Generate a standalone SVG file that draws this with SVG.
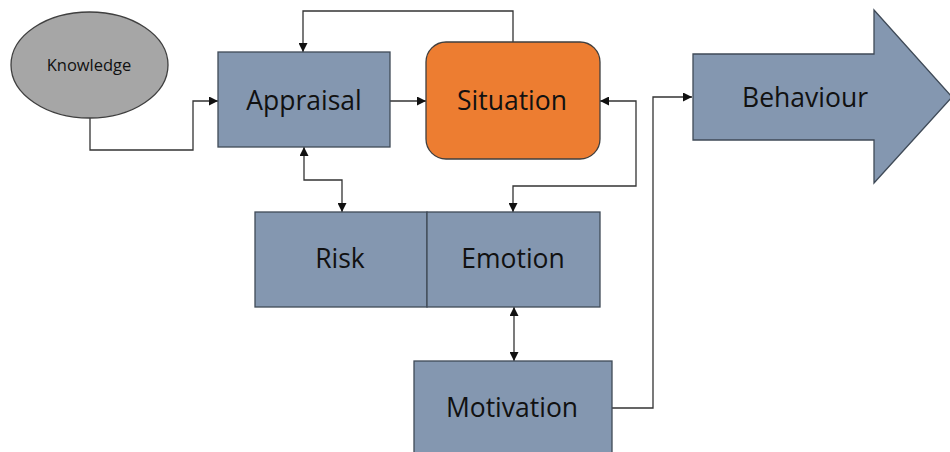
<svg xmlns="http://www.w3.org/2000/svg" width="950" height="452" viewBox="0 0 950 452">
  <style>
    .box { fill: #8497B0; stroke: #3F4A57; stroke-width: 1.3; }
    .lbl { font-family: "Open Sans", "Liberation Sans", sans-serif; font-size: 26.5px; fill: #111; text-anchor: middle; }
    .wire { fill: none; stroke: #333; stroke-width: 1.3; }
  </style>
  <defs>
    <marker id="ah" viewBox="0 0 10 10" refX="10" refY="5" markerWidth="9" markerHeight="9" markerUnits="userSpaceOnUse" orient="auto-start-reverse">
      <path d="M0,0 L10,5 L0,10 Z" fill="#111"/>
    </marker>
  </defs>
  <rect width="950" height="452" fill="#fff"/>

  <g id="connectors">
    <!-- Knowledge to Appraisal -->
    <path class="wire" d="M90,118 V150 H193 V101 H218" marker-end="url(#ah)"/>
    <!-- Situation loop back to Appraisal top -->
    <path class="wire" d="M513,42 V11 H303 V52" marker-end="url(#ah)"/>
    <!-- Appraisal to Situation -->
    <path class="wire" d="M390,101 H426" marker-end="url(#ah)"/>
    <!-- Emotion and Situation -->
    <path class="wire" d="M513,212 V186 H636 V101 H600" marker-start="url(#ah)" marker-end="url(#ah)"/>
    <!-- Appraisal and Risk -->
    <path class="wire" d="M304,147 V180 H342 V212" marker-start="url(#ah)" marker-end="url(#ah)"/>
    <!-- Emotion and Motivation -->
    <path class="wire" d="M514,307 V361" marker-start="url(#ah)" marker-end="url(#ah)"/>
    <!-- Motivation to Behaviour -->
    <path class="wire" d="M612,408 H653 V97 H692" marker-end="url(#ah)"/>
  </g>

  <g id="knowledge">
    <ellipse cx="89.5" cy="65" rx="78.5" ry="53" fill="#A6A6A6" stroke="#3F3F3F" stroke-width="1.3"/>
    <text x="89" y="71" font-family="Open Sans, Liberation Sans, sans-serif" font-size="16.5" fill="#111" text-anchor="middle">Knowledge</text>
  </g>

  <g id="appraisal">
    <rect class="box" x="218" y="52" width="172" height="95"/>
    <text class="lbl" x="304" y="110">Appraisal</text>
  </g>

  <g id="situation">
    <rect x="426" y="42" width="174" height="117" rx="20" ry="20" fill="#ED7D31" stroke="#3F3F3F" stroke-width="1.3"/>
    <text class="lbl" x="512" y="110">Situation</text>
  </g>

  <g id="risk">
    <rect class="box" x="255" y="212" width="172" height="95"/>
    <text class="lbl" x="340" y="268">Risk</text>
  </g>

  <g id="emotion">
    <rect class="box" x="427" y="212" width="173" height="95"/>
    <text class="lbl" x="513" y="268">Emotion</text>
  </g>

  <g id="motivation">
    <rect class="box" x="414" y="361" width="198" height="100"/>
    <text class="lbl" x="512" y="417">Motivation</text>
  </g>

  <g id="behaviour">
    <path class="box" d="M693,54 H874 V10 L952,97 L874,183 V140 H693 Z"/>
    <text class="lbl" x="805" y="107">Behaviour</text>
  </g>
</svg>
